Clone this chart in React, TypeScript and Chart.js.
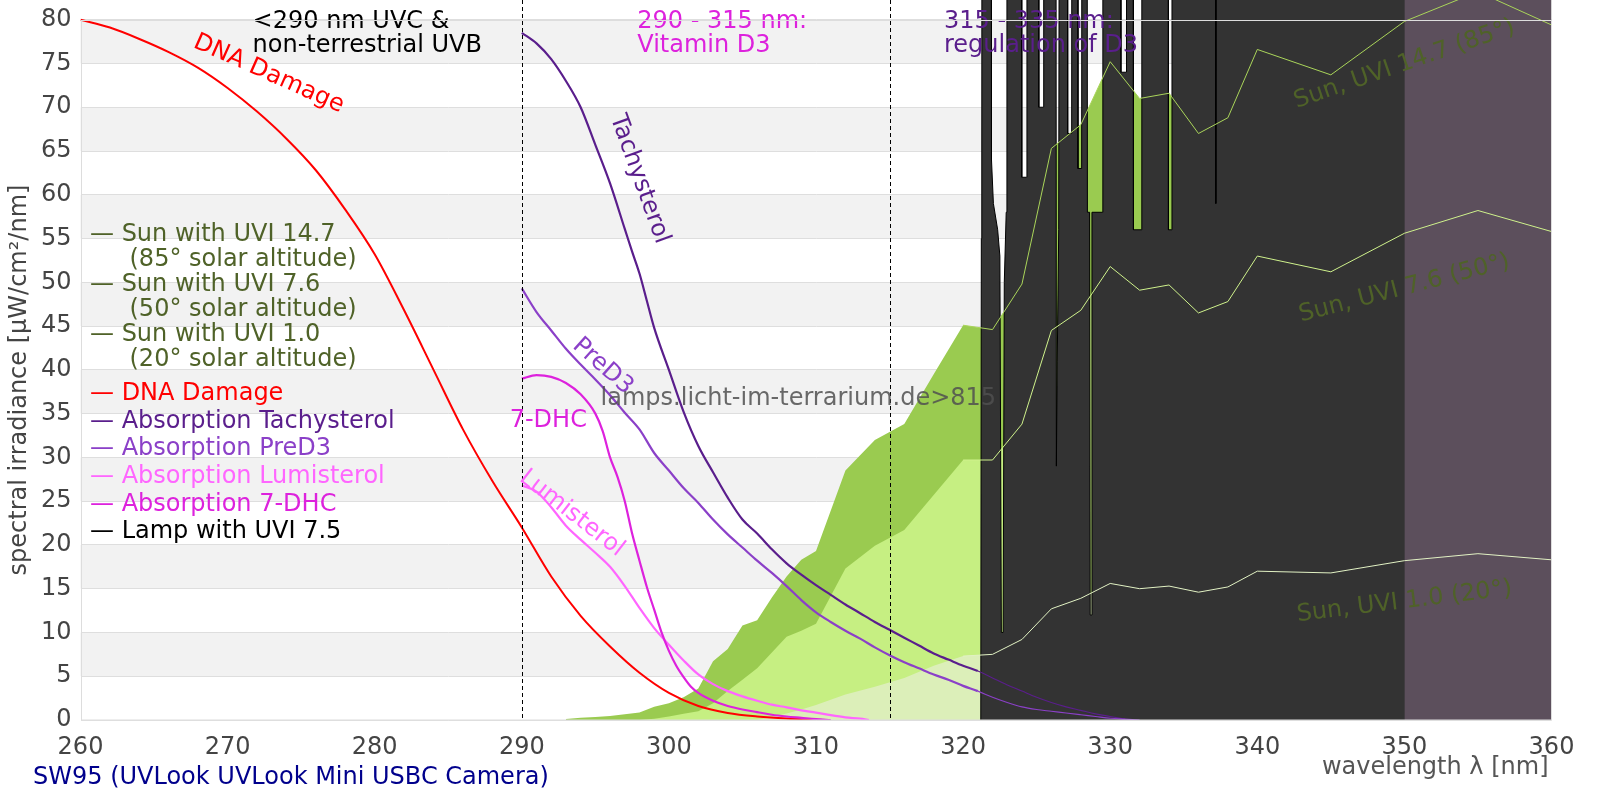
import { useEffect, useRef } from "react";
import { Chart, registerables } from "chart.js";

Chart.register(...registerables);

const FONT = "'DejaVu Sans', 'Noto Sans', sans-serif";
const FS = 24;
const OLIVE = "#4f6228";

// axis ticks
const xTicks = [260, 270, 280, 290, 300, 310, 320, 330, 340, 350, 360];
const yTicks = [0, 5, 10, 15, 20, 25, 30, 35, 40, 45, 50, 55, 60, 65, 70, 75, 80];
const yAxisTop = 82.25; // axis runs a little past 80 so the clipped lamp peaks reach the top edge

// sun spectra [µW/cm²/nm]
const sunWl = [293, 294, 295, 296, 297, 298, 299, 300, 301, 302, 303, 304, 305, 306, 307, 308, 309, 310,
  312, 314, 316, 318, 320, 322, 324, 326, 328, 330, 332, 334, 336, 338, 340, 345, 350, 355, 360];
const sunUvi147 = [0.1, 0.25, 0.35, 0.45, 0.65, 0.85, 1.5, 1.9, 2.6, 3.6, 6.7, 8.1, 10.8, 11.4, 14.0, 16.4, 18.3, 19.3,
  28.5, 32.0, 33.8, 39.5, 45.1, 44.6, 49.8, 65.3, 68.0, 75.2, 71.0, 71.6, 67.0, 68.8, 76.6, 73.7, 79.8, 83.2, 79.4];
const sunUvi76 = [0, 0, 0, 0, 0, 0, 0.15, 0.4, 0.7, 1.0, 1.9, 3.3, 4.6, 5.9, 7.7, 9.5, 10.2, 11.0,
  17.3, 19.9, 21.7, 25.7, 29.7, 29.7, 33.8, 44.5, 46.8, 51.8, 49.1, 49.7, 46.5, 47.8, 53.0, 51.2, 55.6, 58.2, 55.8];
const sunUvi10 = [0, 0, 0, 0, 0, 0, 0, 0, 0, 0, 0, 0, 0, 0, 0.35, 0.75, 1.2, 1.7,
  2.9, 3.8, 4.8, 6.2, 7.3, 7.5, 9.2, 12.7, 13.9, 15.6, 15.0, 15.3, 14.6, 15.2, 17.0, 16.8, 18.2, 19.0, 18.3];

// lamp spectrum (peaks run far above the 80 limit)
const lampWl = [321.2, 321.24, 321.27, 321.3, 321.9, 321.93, 322.06, 322.35, 322.5, 322.6, 322.72, 322.8, 322.93,
  322.98, 323.95, 323.99, 324.3, 324.34, 325.12, 325.15, 325.45, 325.48, 326.3, 326.34, 326.4, 326.5, 326.58,
  327.08, 327.11, 327.38, 327.41, 327.78, 327.81, 328.06, 328.09, 328.42, 328.45, 328.6, 328.64, 328.72, 328.76,
  329.47, 329.5, 330.7, 330.73, 331.08, 331.11, 331.55, 331.58, 332.12, 332.15, 333.93, 333.96, 334.17, 334.2,
  337.15, 337.18, 337.22, 360];
const lampVal = [0, 55, 65, 150, 150, 64, 59, 56, 53, 10, 10, 50, 58,
  150, 150, 62, 62, 150, 150, 70, 70, 150, 150, 29, 41, 56, 150,
  150, 67, 67, 150, 150, 63, 63, 150, 150, 58, 58, 12, 12, 58,
  58, 150, 150, 74, 74, 150, 150, 56, 56, 150, 150, 56, 56, 150,
  150, 59, 150, 150];

// shaded band at the UVA end
const bandWl = [350, 360];
const bandVal = [100, 100];

// action / absorption spectra (scaled)
const dnaWl = [260, 262, 264, 266, 268, 270, 272, 274, 276, 278, 280, 282, 284, 286, 288, 290, 292, 294, 296, 298,
  300, 302, 304, 306, 308, 310];
const dnaVal = [80.0, 79.1, 77.8, 76.3, 74.5, 72.2, 69.5, 66.4, 62.8, 58.3, 53.2, 46.8, 40.0, 33.2, 27.3, 22.0, 16.4,
  11.9, 8.4, 5.4, 3.1, 1.6, 0.8, 0.4, 0.18, 0.08];

const tachyWl = [290, 291, 292, 293, 294, 295, 296, 297, 297.5, 298, 298.5, 299, 300, 301, 302, 303, 304, 305, 306,
  307, 308, 309, 310, 311, 312, 313, 314, 315, 316, 317, 318, 319, 320, 321, 322, 323, 324, 325, 326, 327, 328, 329,
  330, 331];
const tachyVal = [78.5, 77.3, 75.5, 73.0, 70.0, 65.7, 61.3, 56.1, 53.5, 51.0, 47.9, 44.8, 40.0, 35.2, 31.3, 28.3,
  25.4, 22.9, 21.3, 19.5, 17.9, 16.6, 15.4, 14.3, 13.2, 12.2, 11.2, 10.3, 9.4, 8.5, 7.6, 6.9, 6.2, 5.6, 4.8, 4.0,
  3.3, 2.6, 2.0, 1.5, 1.1, 0.7, 0.4, 0.1];

const preD3Wl = [290, 291, 292, 293, 294, 295, 296, 297, 298, 299, 300, 301, 302, 303, 304, 305, 306, 307, 308, 309,
  310, 311, 312, 313, 314, 315, 316, 317, 318, 319, 320, 321, 322, 323, 324, 325, 326, 327, 328, 329, 330, 331, 332];
const preD3Val = [49.3, 46.6, 44.5, 42.4, 40.6, 38.9, 37.1, 35.1, 33.2, 30.5, 28.5, 26.5, 24.8, 22.9, 21.2, 19.7,
  18.2, 16.8, 15.3, 13.7, 12.3, 11.2, 10.2, 9.3, 8.3, 7.4, 6.6, 5.9, 5.2, 4.6, 3.9, 3.3, 2.6, 2.0, 1.5, 1.2, 1.0,
  0.8, 0.6, 0.4, 0.2, 0.1, 0.0];

const lumiWl = [290, 291, 292, 293, 294, 295, 296, 297, 298, 299, 300, 301, 302, 303, 304, 305, 306, 307, 308, 309,
  310, 311, 312, 313, 313.6];
const lumiVal = [26.8, 26.1, 24.3, 22.2, 20.6, 19.1, 17.5, 15.3, 12.8, 10.5, 8.6, 6.8, 5.2, 4.1, 3.3, 2.7, 2.2, 1.75,
  1.45, 1.1, 0.85, 0.55, 0.3, 0.15, 0.0];

const dhcWl = [290, 291, 292, 293, 294, 295, 295.5, 296, 296.5, 297, 297.5, 298, 298.5, 299, 299.5, 300, 300.5, 301,
  301.5, 302, 303, 304, 305, 306, 307, 308, 309, 310, 311];
const dhcVal = [39.0, 39.4, 39.2, 38.5, 37.2, 35.0, 33.0, 30.0, 27.8, 25.0, 21.3, 18.2, 15.2, 12.6, 10.0, 7.9, 6.2,
  4.9, 3.8, 3.1, 2.2, 1.6, 1.2, 0.9, 0.6, 0.4, 0.25, 0.1, 0.0];

// region dividers and labels
const dividers = [290, 315];
const regionLabels = [
  { lines: ["<290 nm UVC &", "non-terrestrial UVB"], x: 271.7, color: "#000000" },
  { lines: ["290 - 315 nm:", "Vitamin D3"], x: 297.85, color: "#dd22dd" },
  { lines: ["315 - 335 nm:", "regulation of D3"], x: 318.7, color: "#5a1e8c" },
];
const curveLabels = [
  { text: "DNA Damage", x: 272.8, y: 73.8, angle: 24, color: "#ff0000" },
  { text: "Tachysterol", x: 298.0, y: 61.8, angle: 70, color: "#5a1e8c" },
  { text: "PreD3", x: 295.5, y: 40.4, angle: 42, color: "#8b40c8" },
  { text: "7-DHC", x: 291.8, y: 34.2, angle: 0, color: "#dd22dd" },
  { text: "Lumisterol", x: 293.4, y: 23.6, angle: 38, color: "#ff66ff" },
  { text: "Sun, UVI 14.7 (85°)", x: 350, y: 74.9, angle: -19, color: OLIVE },
  { text: "Sun, UVI 7.6 (50°)", x: 350, y: 49.3, angle: -14.5, color: OLIVE },
  { text: "Sun, UVI 1.0 (20°)", x: 350, y: 13.5, angle: -7, color: OLIVE },
];
const watermark = { text: "lamps.licht-im-terrarium.de>815", x: 308.8, y: 36.7 };

const legendRows = [
  { text: "— Sun with UVI 14.7", color: OLIVE, indent: false },
  { text: "(85° solar altitude)", color: OLIVE, indent: true },
  { text: "— Sun with UVI 7.6", color: OLIVE, indent: false },
  { text: "(50° solar altitude)", color: OLIVE, indent: true },
  { text: "— Sun with UVI 1.0", color: OLIVE, indent: false },
  { text: "(20° solar altitude)", color: OLIVE, indent: true },
  { text: "— DNA Damage", color: "#ff0000", indent: false },
  { text: "— Absorption Tachysterol", color: "#5a1e8c", indent: false },
  { text: "— Absorption PreD3", color: "#8b40c8", indent: false },
  { text: "— Absorption Lumisterol", color: "#ff66ff", indent: false },
  { text: "— Absorption 7-DHC", color: "#dd22dd", indent: false },
  { text: "— Lamp with UVI 7.5", color: "#000000", indent: false },
];
const LEGEND_Y = [235, 260, 285, 310, 335, 360, 394, 421.5, 449, 477, 505, 532];

const pts = (wl: number[], v: number[]) => wl.map((x, i) => ({ x, y: v[i] }));

function drawText(ctx: CanvasRenderingContext2D, s: string, x: number, y: number, color: string,
  angle: number, align: CanvasTextAlign) {
  ctx.save();
  ctx.translate(x, y);
  ctx.rotate((angle * Math.PI) / 180);
  ctx.font = `${FS}px ${FONT}`;
  ctx.fillStyle = color;
  ctx.textAlign = align;
  ctx.textBaseline = "middle";
  ctx.fillText(s, 0, 0);
  ctx.restore();
}

const decor = {
  id: "decor",
  beforeDraw(chart: any) {
    const { ctx, chartArea: a } = chart;
    const ys = chart.scales.y;
    ctx.save();
    ctx.fillStyle = "#f2f2f2";
    for (let i = 1; i + 1 < yTicks.length; i += 2) {
      const t = ys.getPixelForValue(yTicks[i + 1]);
      const b = ys.getPixelForValue(yTicks[i]);
      ctx.fillRect(a.left, t, a.right - a.left, b - t);
    }
    ctx.restore();
  },
  afterDatasetsDraw(chart: any) {
    const { ctx, chartArea: a } = chart;
    const xs = chart.scales.x;
    const ys = chart.scales.y;
    const top80 = ys.getPixelForValue(yTicks[yTicks.length - 1]);

    ctx.save();
    ctx.strokeStyle = "#000";
    ctx.lineWidth = 1;
    ctx.setLineDash([4, 3]);
    for (const d of dividers) {
      const xp = Math.round(xs.getPixelForValue(d)) + 0.5;
      ctx.beginPath();
      ctx.moveTo(xp, a.top);
      ctx.lineTo(xp, a.bottom);
      ctx.stroke();
    }
    ctx.restore();

    for (const r of regionLabels) {
      r.lines.forEach((s, i) =>
        drawText(ctx, s, xs.getPixelForValue(r.x), top80 + 2 + i * 24, r.color, 0, "left"));
    }
    for (const l of curveLabels) {
      drawText(ctx, l.text, xs.getPixelForValue(l.x), ys.getPixelForValue(l.y), l.color, l.angle, "center");
    }
    drawText(ctx, watermark.text, xs.getPixelForValue(watermark.x), ys.getPixelForValue(watermark.y),
      "rgba(80,80,80,0.85)", 0, "center");

    legendRows.forEach((r, i) =>
      drawText(ctx, r.text, a.left + (r.indent ? 49 : 9.5), LEGEND_Y[i], r.color, 0, "left"));

    ctx.save();
    ctx.strokeStyle = "#dddddd";
    ctx.lineWidth = 1;
    const t = Math.round(top80) + 0.5;
    ctx.strokeRect(Math.round(a.left) + 0.5, t, Math.round(a.right - a.left) - 1, Math.round(a.bottom) - t);
    ctx.restore();
  },
  afterDraw(chart: any) {
    const { ctx, chartArea: a } = chart;
    drawText(ctx, "spectral irradiance [µW/cm²/nm]", 19.5, 380, "#444", -90, "center");
    drawText(ctx, "wavelength λ [nm]", a.right - 3, 768, "#555", 0, "right");
    drawText(ctx, "SW95 (UVLook UVLook Mini USBC Camera)", 33, 778, "#00008c", 0, "left");
  },
};

function curve(label: string, wl: number[], v: number[], color: string, order: number) {
  return {
    label,
    data: pts(wl, v),
    borderColor: color,
    backgroundColor: color,
    borderWidth: 2.2,
    pointRadius: 0,
    fill: false,
    cubicInterpolationMode: "monotone",
    order,
    segment: { borderWidth: (c: any) => (c.p0.parsed.x >= 321 ? 1.1 : 2.2) },
  };
}

function sunFill(label: string, v: number[], color: string, order: number) {
  return {
    label,
    data: pts(sunWl, v),
    borderColor: color,
    backgroundColor: color,
    borderWidth: 0,
    pointRadius: 0,
    tension: 0,
    fill: "origin",
    order,
  };
}

function sunLine(label: string, v: number[], color: string, order: number) {
  return {
    label,
    data: pts(sunWl, v).filter((p) => p.x >= 320),
    borderColor: color,
    borderWidth: 1,
    pointRadius: 0,
    tension: 0,
    fill: false,
    clip: false,
    order,
  };
}

export default function App() {
  const canvasRef = useRef<HTMLCanvasElement>(null);

  useEffect(() => {
    if (!canvasRef.current) return;
    Chart.defaults.font.family = FONT;

    const chart = new Chart(canvasRef.current, {
      type: "line",
      data: {
        datasets: [
          sunFill("Sun UVI 14.7", sunUvi147, "#9acb50", 100),
          sunFill("Sun UVI 7.6", sunUvi76, "#c6ef82", 99),
          sunFill("Sun UVI 1.0", sunUvi10, "#dcefb9", 98),
          {
            label: "Lamp with UVI 7.5",
            data: pts(lampWl, lampVal),
            borderColor: "#000000",
            backgroundColor: "#333333",
            borderWidth: 1,
            pointRadius: 0,
            tension: 0,
            fill: "origin",
            order: 90,
          },
          {
            label: "UVA band",
            data: pts(bandWl, bandVal),
            borderColor: "#5c4f5c",
            backgroundColor: "#5c4f5c",
            borderWidth: 0,
            pointRadius: 0,
            fill: "origin",
            order: 85,
          },
          sunLine("Sun UVI 14.7 line", sunUvi147, "#aad55a", 80),
          sunLine("Sun UVI 7.6 line", sunUvi76, "#cff28c", 79),
          sunLine("Sun UVI 1.0 line", sunUvi10, "#e2f2c4", 78),
          { ...curve("DNA Damage", dnaWl, dnaVal, "#ff0000", 10), segment: undefined, borderWidth: 2 },
          curve("Absorption Tachysterol", tachyWl, tachyVal, "#5a1e8c", 9),
          curve("Absorption PreD3", preD3Wl, preD3Val, "#8b40c8", 8),
          curve("Absorption Lumisterol", lumiWl, lumiVal, "#ff66ff", 7),
          curve("Absorption 7-DHC", dhcWl, dhcVal, "#dd22dd", 6),
        ] as any,
      },
      options: {
        animation: false,
        responsive: true,
        maintainAspectRatio: false,
        layout: { padding: { top: 0, right: 48.5, left: 0, bottom: 0 } },
        plugins: { legend: { display: false }, tooltip: { enabled: false } },
        scales: {
          x: {
            type: "linear",
            min: 260,
            max: 360,
            afterBuildTicks: (s: any) => {
              s.ticks = xTicks.map((value) => ({ value }));
            },
            afterFit: (s: any) => {
              s.height = 80;
              s.paddingLeft = 0;
              s.paddingRight = 0;
            },
            grid: { display: false },
            border: { display: false },
            ticks: { color: "#444", font: { size: FS }, padding: 5, maxRotation: 0, autoSkip: false },
          },
          y: {
            type: "linear",
            min: 0,
            max: yAxisTop,
            afterBuildTicks: (s: any) => {
              s.ticks = yTicks.map((value) => ({ value }));
            },
            afterFit: (s: any) => {
              s.width = 80.5;
              s.paddingTop = 0;
              s.paddingBottom = 0;
            },
            grid: { color: "#dedede", drawTicks: false },
            border: { display: false },
            ticks: { color: "#444", font: { size: FS }, padding: 9, autoSkip: false },
          },
        },
      },
      plugins: [decor],
    } as any);

    return () => chart.destroy();
  }, []);

  return (
    <div style={{ position: "absolute", left: 0, top: 0, width: 1600, height: 800, background: "#fff" }}>
      <canvas ref={canvasRef} />
    </div>
  );
}
